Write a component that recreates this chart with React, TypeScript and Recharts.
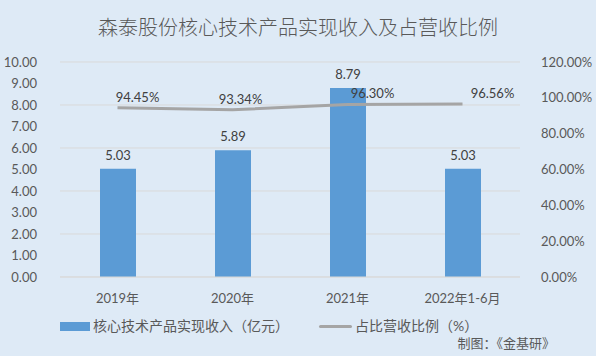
import React from "react"
import { ComposedChart, Bar, Line, XAxis, YAxis, CartesianGrid, LabelList } from "recharts"

const categories = ["2019年", "2020年", "2021年", "2022年1-6月"]
const revenue = [5.03, 5.89, 8.79, 5.03]
const ratio = [94.45, 93.34, 96.3, 96.56]
const leftTicks = [0, 1, 2, 3, 4, 5, 6, 7, 8, 9, 10]
const rightTicks = [0, 20, 40, 60, 80, 100, 120]

// Excel labels were nudged by hand, so each % label gets its own shift
const ratioLabelDx = [20, 8, 25, 30]

const data = categories.map((name, i) => ({ name, revenue: revenue[i], ratio: ratio[i] }))

const FONT = "Lato, 'Noto Sans CJK SC', sans-serif"
const AXIS_TEXT = "#595959"

const RatioLabel = (props: any) => {
  const { x, y, index, value } = props
  return (
    <text x={x + ratioLabelDx[index]} y={y - 11} textAnchor="middle" dominantBaseline="central" fontSize={13} fill="#404040" fontFamily={FONT}>
      {value.toFixed(2)}%
    </text>
  )
}

export default function App() {
  return (
    <div style={{ position: "absolute", left: 0, top: 0, width: 596, height: 356, background: "#DEEAF6", fontFamily: FONT }}>
      <div style={{ position: "absolute", left: 0, top: 12, width: 596, textAlign: "center", fontSize: 20, fontWeight: 300, color: AXIS_TEXT, lineHeight: "30px" }}>
        森泰股份核心技术产品实现收入及占营收比例
      </div>
      <ComposedChart width={596} height={356} data={data} margin={{ top: 62, right: 0, bottom: 49, left: 10 }} style={{ position: "absolute", left: 0, top: 0 }}>
        <CartesianGrid yAxisId="left" vertical={false} stroke="#D9D9D9" />
        <XAxis dataKey="name" height={30} axisLine={{ stroke: "#D9D9D9" }} tickLine={false} tickMargin={11} tick={{ fontSize: 13, fill: AXIS_TEXT, fontFamily: FONT }} />
        <YAxis yAxisId="left" width={50} domain={[0, 10]} ticks={leftTicks} axisLine={false} tickLine={false} tickMargin={17} tickFormatter={(v: number) => v.toFixed(2)} tick={{ fontSize: 13, fill: AXIS_TEXT, fontFamily: FONT }} />
        <YAxis yAxisId="right" orientation="right" width={76} domain={[0, 120]} ticks={rightTicks} axisLine={false} tickLine={false} tickMargin={15} tickFormatter={(v: number) => `${v.toFixed(2)}%`} tick={{ fontSize: 13, fill: AXIS_TEXT, fontFamily: FONT, textAnchor: "start" }} />
        <Bar yAxisId="left" dataKey="revenue" fill="#5B9BD5" barSize={36} isAnimationActive={false}>
          <LabelList dataKey="revenue" position="top" offset={9} formatter={(v: any) => Number(v).toFixed(2)} style={{ fontSize: 13, fill: "#404040", fontFamily: FONT }} />
        </Bar>
        <Line yAxisId="right" dataKey="ratio" stroke="#A5A5A5" strokeWidth={3} dot={false} type="linear" isAnimationActive={false}>
          <LabelList dataKey="ratio" content={<RatioLabel />} />
        </Line>
      </ComposedChart>
      <div style={{ position: "absolute", left: 60, top: 322, width: 30, height: 9, background: "#5B9BD5" }} />
      <div style={{ position: "absolute", left: 93, top: 316, fontSize: 14, color: AXIS_TEXT, lineHeight: "20px" }}>核心技术产品实现收入（亿元）</div>
      <div style={{ position: "absolute", left: 319, top: 325, width: 33, height: 3, background: "#A5A5A5", borderRadius: 2 }} />
      <div style={{ position: "absolute", left: 355, top: 316, fontSize: 14, color: AXIS_TEXT, lineHeight: "20px" }}>占比营收比例（%）</div>
      <div style={{ position: "absolute", right: 41, top: 334, fontSize: 13, color: AXIS_TEXT, lineHeight: "18px" }}>制图：《金基研》</div>
    </div>
  )
}
